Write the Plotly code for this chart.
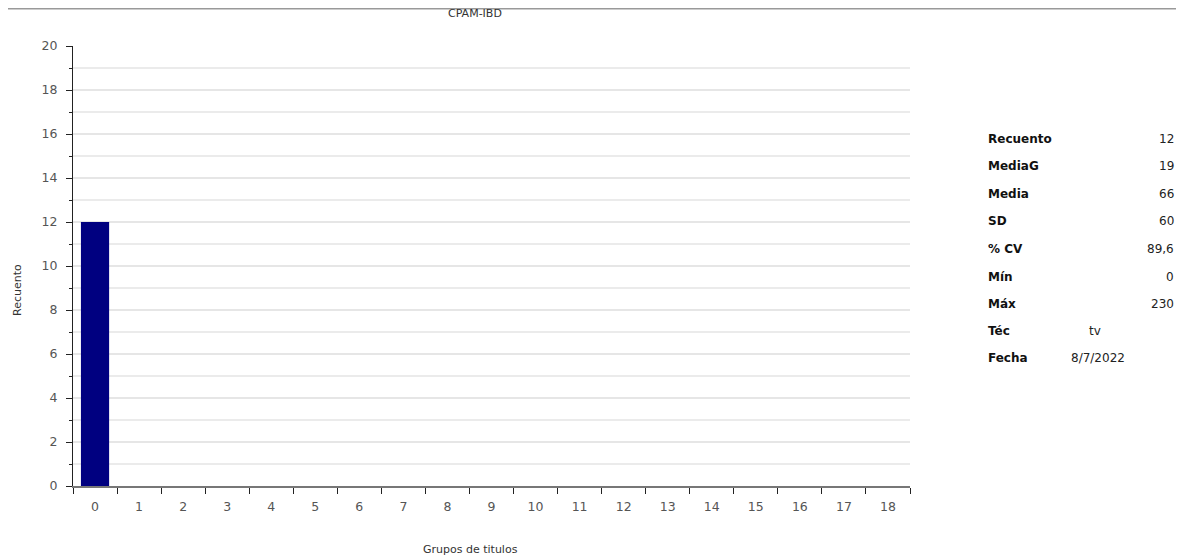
import plotly.graph_objects as go

categories = [str(i) for i in range(19)]
counts = [12] + [0] * 18

stat_labels = ["Recuento", "MediaG", "Media", "SD", "% CV", "Mín", "Máx", "Téc", "Fecha"]
stat_values = ["12", "19", "66", "60", "89,6", "0", "230", "tv", "8/7/2022"]

# page body adds an 8px margin; compensate so the figure lines up with a 1184x560 frame
OFF = 8
W, H = 1184 - OFF, 560 - OFF
L, R, T, B = 73 - OFF, 274, 46 - OFF, 74
PW, PH = W - L - R, H - T - B

def px(x):
    return (x - OFF - L) / PW

def py(y):
    return (H - B - (y - OFF)) / PH

FONT = "DejaVu Sans"

fig = go.Figure()
fig.add_trace(go.Bar(
    x=categories, y=counts, width=0.64,
    marker=dict(color="#000080", line=dict(width=0)),
    showlegend=False,
))

fig.update_layout(
    width=W, height=H,
    margin=dict(l=L, r=R, t=T, b=B, autoexpand=False),
    paper_bgcolor="white", plot_bgcolor="white",
    font=dict(family=FONT, size=12, color="#444"),
    xaxis=dict(
        type="category", tickson="boundaries", ticks="outside", ticklen=6,
        tickcolor="#222", showline=True, linecolor="#777", linewidth=2,
        showgrid=False, tickfont=dict(size=12.5, color="#555"),
        ticklabelstandoff=8, automargin=False,
        range=[-0.5, 18.5], fixedrange=True,
    ),
    yaxis=dict(
        range=[0, 20], dtick=2, tick0=0, ticks="outside", ticklen=6,
        tickcolor="#222", showline=True, linecolor="#222", linewidth=1,
        showgrid=True, gridcolor="#e6e6e6", gridwidth=2, zeroline=False,
        tickfont=dict(size=12.5, color="#555"),
        ticklabelstandoff=6, automargin=False,
        minor=dict(dtick=1, tick0=0, ticks="outside", ticklen=3, tickcolor="#222",
                   showgrid=True, gridcolor="#ebebeb", gridwidth=2),
    ),
)

annotations = [
    dict(text="CPAM-IBD", x=px(475), y=py(14), xref="paper", yref="paper",
         showarrow=False, xanchor="center", yanchor="middle",
         font=dict(size=11, color="#333")),
    dict(text="Grupos de titulos", x=px(470), y=py(549), xref="paper", yref="paper",
         showarrow=False, xanchor="center", yanchor="middle",
         font=dict(size=11, color="#333")),
    dict(text="Recuento", x=px(17), y=py(290), xref="paper", yref="paper",
         showarrow=False, xanchor="center", yanchor="middle", textangle=-90,
         font=dict(size=11, color="#333")),
]

row_y = [139, 166.5, 194, 221.5, 249, 276.5, 304, 331, 358]
for i, (lab, val) in enumerate(zip(stat_labels, stat_values)):
    annotations.append(dict(
        text="<b>" + lab + "</b>", x=px(986), y=py(row_y[i]), xref="paper", yref="paper",
        showarrow=False, xanchor="left", yanchor="middle",
        font=dict(size=12, color="#111")))
    if lab == "Téc":
        annotations.append(dict(
            text=val, x=px(1087), y=py(row_y[i]), xref="paper", yref="paper",
            showarrow=False, xanchor="left", yanchor="middle",
            font=dict(size=12, color="#222")))
    elif lab == "Fecha":
        annotations.append(dict(
            text=val, x=px(1069), y=py(row_y[i]), xref="paper", yref="paper",
            showarrow=False, xanchor="left", yanchor="middle",
            font=dict(size=12, color="#222")))
    else:
        annotations.append(dict(
            text=val, x=px(1176), y=py(row_y[i]), xref="paper", yref="paper",
            showarrow=False, xanchor="right", yanchor="middle",
            font=dict(size=12, color="#222")))

fig.update_layout(annotations=annotations)

fig.add_shape(type="line", xref="paper", yref="paper",
              x0=px(0), x1=px(1184), y0=py(OFF + 0.5), y1=py(OFF + 0.5),
              line=dict(color="#999", width=2))

fig.write_html("out.html")
